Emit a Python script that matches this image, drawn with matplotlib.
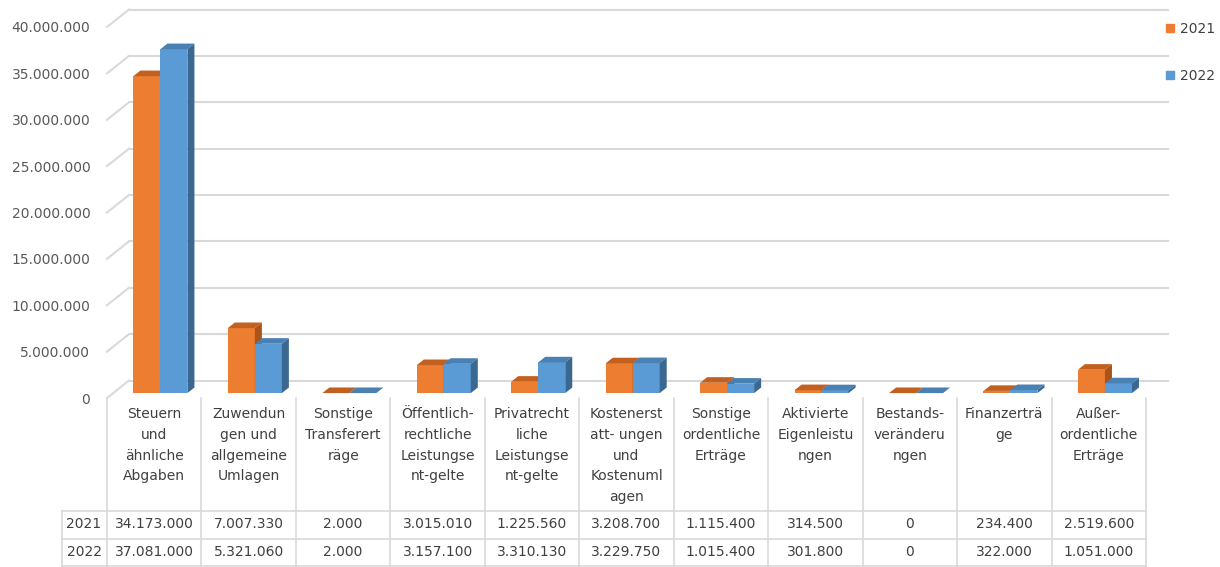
import matplotlib.pyplot as plt
from matplotlib.patches import Polygon, Patch
from matplotlib.transforms import blended_transform_factory

categories = ['Steuern\nund\nähnliche\nAbgaben',
              'Zuwendun\ngen und\nallgemeine\nUmlagen',
              'Sonstige\nTransferert\nräge',
              'Öffentlich-\nrechtliche\nLeistungse\nnt-gelte',
              'Privatrecht\nliche\nLeistungse\nnt-gelte',
              'Kostenerst\natt- ungen\nund\nKostenuml\nagen',
              'Sonstige\nordentliche\nErträge',
              'Aktivierte\nEigenleistu\nngen',
              'Bestands-\nveränderu\nngen',
              'Finanzerträ\nge',
              'Außer-\nordentliche\nErträge']
years = ['2021', '2022']
values_2021 = [34173000, 7007330, 2000, 3015010, 1225560, 3208700, 1115400, 314500, 0, 234400, 2519600]
values_2022 = [37081000, 5321060, 2000, 3157100, 3310130, 3229750, 1015400, 301800, 0, 322000, 1051000]
y_ticks = [0, 5000000, 10000000, 15000000, 20000000, 25000000, 30000000, 35000000, 40000000]

front_colors = ['#ed7d31', '#5b9bd5']
top_colors = ['#c2611f', '#4a80b2']
side_colors = ['#ab5419', '#3a6891']
grid_color = '#d9d9d9'
text_color = '#404040'

W, H = 1220, 567
fig = plt.figure(figsize=(W / 100, H / 100), dpi=100)
plt.rcParams['font.family'] = ['DejaVu Sans']

# axes area = front plane of the 3D box (pixel measurements from the reference)
left_px, right_px, zero_px, top_px = 107, 1146, 398, 27
ax = fig.add_axes([left_px / W, (H - zero_px) / H, (right_px - left_px) / W, (zero_px - top_px) / H])
ax.set_xlim(-0.5, len(categories) - 0.5)
ax.set_ylim(0, 40000000)
for s in ax.spines.values():
    s.set_visible(False)
ax.set_xticks([])
ax.set_yticks(y_ticks)
ax.set_yticklabels([f'{v:,}'.replace(',', '.') for v in y_ticks], color='#595959', fontsize=10)
ax.tick_params(axis='y', length=0, pad=12)
for lbl in ax.get_yticklabels():
    lbl.set_y(lbl.get_position()[1])

# depth of the box in data units
px_per_cat = (right_px - left_px) / len(categories)
px_per_val = (zero_px - top_px) / 40000000
DX = 22 / px_per_cat
DY = 17.5 / px_per_val

# back wall gridlines + left wall diagonals
for v in y_ticks:
    ax.plot([-0.5 + DX, len(categories) - 0.5 + DX], [v + DY, v + DY], color=grid_color, lw=1.5, clip_on=False, zorder=0)
    ax.plot([-0.5, -0.5 + DX], [v, v + DY], color=grid_color, lw=1.5, clip_on=False, zorder=0)

# 3D bars
bar_w = 27 / px_per_cat
d0, d1 = 0.28, 0.6
ox0, oy0 = d0 * DX, d0 * DY
ox1, oy1 = d1 * DX, d1 * DY
for i in range(len(categories)):
    for j, vals in enumerate([values_2021, values_2022]):
        v = vals[i]
        L = i - bar_w + j * bar_w
        ax.bar(L + ox0, v, width=bar_w, bottom=oy0, align='edge', color=front_colors[j], zorder=2 + i * 0.01, clip_on=False)
        top = [(L + ox0, v + oy0), (L + bar_w + ox0, v + oy0), (L + bar_w + ox1, v + oy1), (L + ox1, v + oy1)]
        side = [(L + bar_w + ox0, oy0), (L + bar_w + ox0, v + oy0), (L + bar_w + ox1, v + oy1), (L + bar_w + ox1, oy1)]
        ax.add_patch(Polygon(top, closed=True, color=top_colors[j], lw=0, zorder=2 + i * 0.01, clip_on=False))
        ax.add_patch(Polygon(side, closed=True, color=side_colors[j], lw=0, zorder=2 + i * 0.01, clip_on=False))

# data table below the chart
tr = blended_transform_factory(ax.transData, fig.transFigure)
def fy(px):
    return (H - px) / H

row_line1, row_line2, bottom_line = 511, 539, 566
for k in range(len(categories) + 1):
    ax.plot([k - 0.5, k - 0.5], [fy(zero_px), fy(bottom_line)], color=grid_color, lw=1.2, transform=tr, clip_on=False)
for yl in [row_line1, row_line2, bottom_line]:
    fig.add_artist(plt.Line2D([62 / W, right_px / W], [fy(yl), fy(yl)], color=grid_color, lw=1.2))
fig.add_artist(plt.Line2D([62 / W, 62 / W], [fy(row_line1), fy(bottom_line)], color=grid_color, lw=1.2))

for i, cat in enumerate(categories):
    ax.text(i, fy(407), cat, transform=tr, ha='center', va='top', fontsize=10, color=text_color, linespacing=1.62)
    ax.text(i, fy(524), f'{values_2021[i]:,}'.replace(',', '.'), transform=tr, ha='center', va='center', fontsize=10, color=text_color)
    ax.text(i, fy(552), f'{values_2022[i]:,}'.replace(',', '.'), transform=tr, ha='center', va='center', fontsize=10, color=text_color)
fig.text(84 / W, fy(524), years[0], ha='center', va='center', fontsize=10, color=text_color)
fig.text(84 / W, fy(552), years[1], ha='center', va='center', fontsize=10, color=text_color)

# legend
handles = [Patch(color=front_colors[0], label=years[0]), Patch(color=front_colors[1], label=years[1])]
fig.legend(handles=handles, loc='upper left', bbox_to_anchor=(1166 / W, fy(22)), frameon=False,
           fontsize=10, handlelength=0.55, handleheight=0.55, handletextpad=0.45, labelspacing=2.35,
           borderpad=0, borderaxespad=0, labelcolor=text_color)

plt.savefig('out.png', dpi=100)
